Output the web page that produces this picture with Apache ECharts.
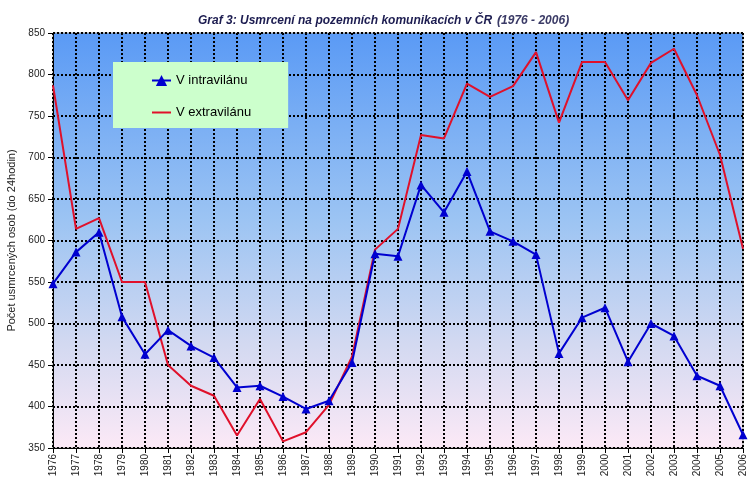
<!DOCTYPE html>
<html>
<head>
<meta charset="utf-8">
<title>Graf 3</title>
<script src="https://cdn.jsdelivr.net/npm/echarts@6/dist/echarts.min.js"></script>
<style>
  html, body { margin: 0; padding: 0; background: #fff; }
  #chart { width: 755px; height: 487px; }
</style>
</head>
<body>
<div id="chart"></div>
<script>
// roky
const years = ['1976', '1977', '1978', '1979', '1980', '1981', '1982', '1983', '1984', '1985',
  '1986', '1987', '1988', '1989', '1990', '1991', '1992', '1993', '1994', '1995',
  '1996', '1997', '1998', '1999', '2000', '2001', '2002', '2003', '2004', '2005', '2006'];

// usmrcení v intravilánu
const intravilan = [548, 586, 610, 508, 463, 492, 473, 459, 423, 425,
  412, 397, 407, 453, 584, 581, 667, 634, 683, 611,
  599, 583, 464, 507, 519, 454, 500, 485, 437, 425, 366];

// usmrcení v extravilánu
const extravilan = [787, 614, 627, 550, 550, 450, 425, 413, 365, 409,
  358, 369, 402, 460, 589, 614, 727, 723, 789, 773,
  786, 827, 742, 815, 815, 769, 814, 831, 775, 703, 590];

// osa y
const yMin = 350;
const yMax = 850;
const yStep = 50;

const chart = echarts.init(document.getElementById('chart'));

chart.setOption({
  animation: false,
  title: {
    text: '{b|Graf 3: Usmrcení na pozemních komunikacích v ČR} {n|(1976 - 2006)}',
    left: 193,
    top: 7,
    textStyle: {
      rich: {
        b: { fontFamily: 'Liberation Sans', fontSize: 12, fontWeight: 'bold', fontStyle: 'italic', color: '#1c1c50' },
        n: { fontFamily: 'Liberation Sans', fontSize: 12, fontStyle: 'italic', color: '#3a3a66' }
      }
    }
  },
  legend: {
    orient: 'vertical',
    left: 113,
    top: 62,
    padding: [12, 37, 9, 38],
    itemGap: 19,
    itemWidth: 19,
    itemHeight: 14,
    backgroundColor: '#ccffcc',
    textStyle: { fontFamily: 'Liberation Sans', fontSize: 13, color: '#000' },
    data: [
      { name: 'V intravilánu' },
      { name: 'V extravilánu', icon: 'inherit', itemStyle: { opacity: 0 } }
    ]
  },
  grid: {
    left: 53,
    right: 12,
    top: 33,
    bottom: 39,
    outerBoundsMode: 'none',
    show: true,
    borderColor: '#999',
    borderWidth: 1,
    backgroundColor: {
      type: 'linear', x: 0, y: 0, x2: 0, y2: 1,
      colorStops: [
        { offset: 0, color: '#5a9af5' },
        { offset: 0.45, color: '#9cc4f3' },
        { offset: 0.75, color: '#d3d9f1' },
        { offset: 1, color: '#fce9f6' }
      ]
    }
  },
  xAxis: {
    type: 'category',
    data: years,
    boundaryGap: false,
    axisLine: { lineStyle: { color: '#000', width: 1 } },
    axisTick: { show: true, interval: 0, length: 5, lineStyle: { color: '#000' } },
    axisLabel: {
      interval: 0,
      rotate: 90,
      margin: 6,
      fontFamily: 'Liberation Sans',
      fontSize: 10,
      color: '#222'
    },
    splitLine: {
      show: true,
      interval: 0,
      lineStyle: { color: '#000', type: [2, 2], width: 2 }
    }
  },
  yAxis: {
    type: 'value',
    min: yMin,
    max: yMax,
    interval: yStep,
    name: 'Počet usmrcených osob (do 24hodin)',
    nameLocation: 'middle',
    nameGap: 35,
    nameTextStyle: { fontFamily: 'Liberation Sans', fontSize: 11, color: '#222' },
    axisLine: { show: true, lineStyle: { color: '#000', width: 1 } },
    axisTick: { show: true, length: 5, lineStyle: { color: '#000' } },
    axisLabel: { fontFamily: 'Liberation Sans', fontSize: 10, color: '#222', margin: 8 },
    splitLine: {
      show: true,
      lineStyle: { color: '#000', type: [2, 2], width: 2 }
    }
  },
  series: [
    {
      name: 'V intravilánu',
      type: 'line',
      data: intravilan,
      symbol: 'triangle',
      symbolSize: 9,
      lineStyle: { color: '#0000d0', width: 2 },
      itemStyle: { color: '#0000d0' },
      z: 3
    },
    {
      name: 'V extravilánu',
      type: 'line',
      data: extravilan,
      symbol: 'none',
      lineStyle: { color: '#e0102a', width: 2 },
      itemStyle: { color: '#e0102a' },
      z: 2
    }
  ]
});
</script>
</body>
</html>
